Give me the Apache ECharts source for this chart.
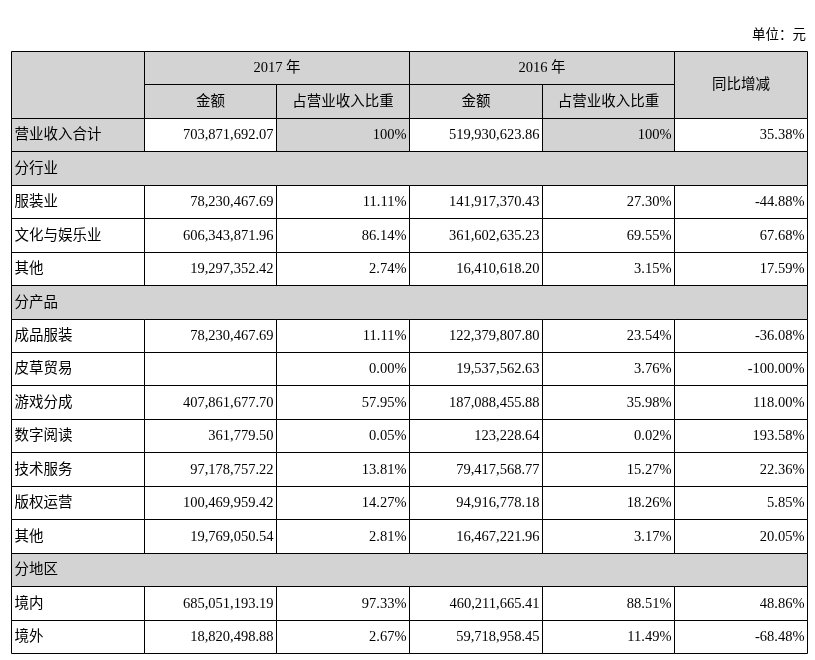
<!DOCTYPE html>
<html>
<head>
<meta charset="utf-8">
<title>营业收入构成</title>
<script src="https://cdn.jsdelivr.net/npm/echarts@6/dist/echarts.min.js"></script>
<style>
    html, body {margin: 0; padding: 0; background: #fff;}
    #main {width: 815px; height: 660px;}
</style>
</head>
<body>
<div id="main"></div>
<script>
    // 表头
    var yearLabels = ['2017 年', '2016 年'];
    var subLabels = ['金额', '占营业收入比重'];
    var yoyLabel = '同比增减';
    var unitLabel = '单位：元';

    // 行名（分行业 / 分产品 / 分地区 为分组行）
    var rowNames = ['营业收入合计', '分行业', '服装业', '文化与娱乐业', '其他',
        '分产品', '成品服装', '皮草贸易', '游戏分成', '数字阅读', '技术服务', '版权运营', '其他',
        '分地区', '境内', '境外'];
    var amount2017 = [703871692.07, null, 78230467.69, 606343871.96, 19297352.42,
        null, 78230467.69, null, 407861677.70, 361779.50, 97178757.22, 100469959.42, 19769050.54,
        null, 685051193.19, 18820498.88];
    var share2017 = [100, null, 11.11, 86.14, 2.74,
        null, 11.11, 0.00, 57.95, 0.05, 13.81, 14.27, 2.81,
        null, 97.33, 2.67];
    var amount2016 = [519930623.86, null, 141917370.43, 361602635.23, 16410618.20,
        null, 122379807.80, 19537562.63, 187088455.88, 123228.64, 79417568.77, 94916778.18, 16467221.96,
        null, 460211665.41, 59718958.45];
    var share2016 = [100, null, 27.30, 69.55, 3.15,
        null, 23.54, 3.76, 35.98, 0.02, 15.27, 18.26, 3.17,
        null, 88.51, 11.49];
    var yoy = [35.38, null, -44.88, 67.68, 17.59,
        null, -36.08, -100.00, 118.00, 193.58, 22.36, 5.85, 20.05,
        null, 48.86, -68.48];

    var GRAY = '#d3d3d3';
    var FONT = '"Liberation Serif", "Times New Roman", "Noto Sans CJK SC", serif';
    var CJK_FONT = '"Noto Sans CJK SC", sans-serif';

    function money(v) {
        if (v === null) return '';
        var s = v.toFixed(2).split('.');
        return s[0].replace(/\B(?=(\d{3})+(?!\d))/g, ',') + '.' + s[1];
    }

    function pct(v, digits) {
        if (v === null) return '';
        return v.toFixed(digits) + '%';
    }

    // 单元格: [列, 行, 跨列, 跨行] + 文字/对齐/底色
    var cells = [];
    function cell(c, r, cs, rs, text, align, fill) {
        cells.push({value: [c, r, cs, rs], text: text, align: align, fill: fill});
    }

    cell(0, 0, 1, 2, '', 'center', GRAY);
    cell(1, 0, 2, 1, yearLabels[0], 'center', GRAY);
    cell(3, 0, 2, 1, yearLabels[1], 'center', GRAY);
    cell(5, 0, 1, 2, yoyLabel, 'center', GRAY);
    cell(1, 1, 1, 1, subLabels[0], 'center', GRAY);
    cell(2, 1, 1, 1, subLabels[1], 'center', GRAY);
    cell(3, 1, 1, 1, subLabels[0], 'center', GRAY);
    cell(4, 1, 1, 1, subLabels[1], 'center', GRAY);

    rowNames.forEach(function (name, i) {
        var r = i + 2;
        var isGroup = amount2017[i] === null && share2017[i] === null;
        if (isGroup) {
            cell(0, r, 6, 1, name, 'left', GRAY);
            return;
        }
        var isTotal = i === 0;
        var d = isTotal ? 0 : 2;
        cell(0, r, 1, 1, name, 'left', isTotal ? GRAY : '#fff');
        cell(1, r, 1, 1, money(amount2017[i]), 'right', '#fff');
        cell(2, r, 1, 1, pct(share2017[i], d), 'right', isTotal ? GRAY : '#fff');
        cell(3, r, 1, 1, money(amount2016[i]), 'right', '#fff');
        cell(4, r, 1, 1, pct(share2016[i], d), 'right', isTotal ? GRAY : '#fff');
        cell(5, r, 1, 1, pct(yoy[i], 2), 'right', '#fff');
    });

    var chart = echarts.init(document.getElementById('main'));
    chart.setOption({
        animation: false,
        title: {
            text: unitLabel, right: 9, top: 27, padding: 0,
            textStyle: {fontSize: 13.5, lineHeight: 14, fontWeight: 'normal', color: '#000', fontFamily: CJK_FONT}
        },
        grid: {left: 11, right: 8, top: 51, bottom: 7},
        xAxis: {type: 'value', min: 0, max: 6, show: false},
        yAxis: {type: 'value', min: 0, max: 18, inverse: true, show: false},
        series: [{
            type: 'custom',
            encode: {x: 0, y: 1},
            data: cells.map(function (c) { return c.value; }),
            renderItem: function (params, api) {
                var c = cells[params.dataIndex];
                var p0 = api.coord([api.value(0), api.value(1)]);
                var p1 = api.coord([api.value(0) + api.value(2), api.value(1) + api.value(3)]);
                var x0 = Math.round(p0[0]) + 0.5, y0 = Math.round(p0[1]) + 0.5;
                var x1 = Math.round(p1[0]) + 0.5, y1 = Math.round(p1[1]) + 0.5;
                var tx = c.align === 'left' ? x0 + 3 : (c.align === 'right' ? x1 - 3 : (x0 + x1) / 2);
                return {
                    type: 'group',
                    children: [{
                        type: 'rect',
                        shape: {x: x0, y: y0, width: x1 - x0, height: y1 - y0},
                        style: {fill: c.fill, stroke: '#000', lineWidth: 1}
                    }, {
                        type: 'text',
                        style: {
                            x: tx, y: (y0 + y1) / 2 + 0.5,
                            text: c.text,
                            align: c.align,
                            verticalAlign: 'middle',
                            fill: '#000',
                            font: '14.5px ' + FONT
                        }
                    }]
                };
            }
        }]
    });
</script>
</body>
</html>
